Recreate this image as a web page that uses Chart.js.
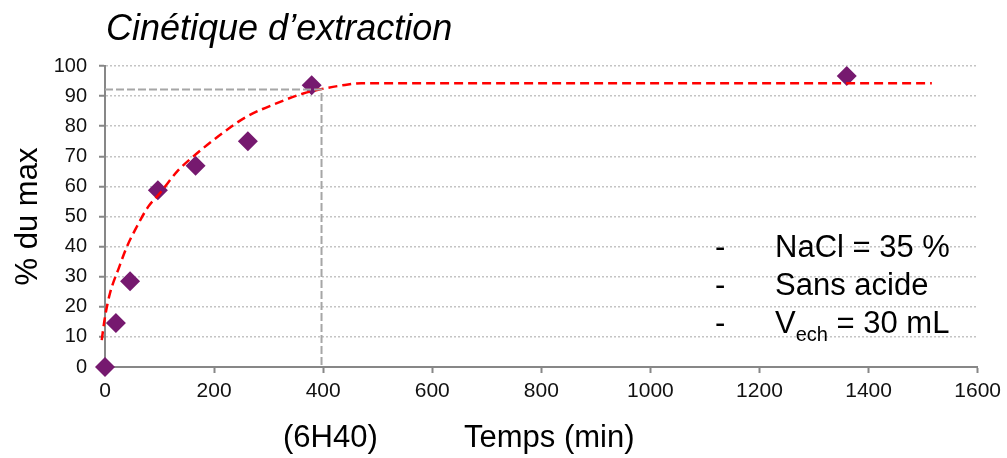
<!DOCTYPE html>
<html>
<head>
<meta charset="utf-8">
<script src="https://cdn.jsdelivr.net/npm/chart.js@4/dist/chart.umd.min.js"></script>
<style>
  html, body { margin: 0; padding: 0; background: #ffffff; }
  #wrap { width: 1007px; height: 458px; position: relative; }
</style>
</head>
<body>
<div id="wrap"><canvas id="c" width="1007" height="458"></canvas></div>
<script>
// ---- data ----
const measureTimes  = [0, 20, 46, 97, 166, 262, 379, 1360];          // min
const measureValues = [0, 14.6, 28.5, 58.7, 66.9, 75.0, 93.6, 96.7];  // % du max

const fitTimes  = [-12, -6, 0, 9, 26, 40, 58, 79, 100, 134, 161, 222, 259, 313, 362, 393, 440, 470, 600, 1000, 1516];
const fitValues = [0, 8.9, 16.6, 24.4, 33.2, 39.9, 46.5, 53.2, 57.6, 65.3, 69.8, 78.6, 83.1, 87.5, 90.8, 92.2, 93.7, 94.3, 94.3, 94.3, 94.3];

const refTimes  = [0, 397, 397];
const refValues = [92.2, 92.2, 0];

const xTicks = [0, 200, 400, 600, 800, 1000, 1200, 1400, 1600];
const yTicks = [0, 10, 20, 30, 40, 50, 60, 70, 80, 90, 100];

const chartTitle = 'Cinétique d’extraction';
const xTitle = 'Temps (min)';
const xNote = '(6H40)';
const yTitle = '% du max';
const conditions = [
  { main: 'NaCl = 35 %' },
  { main: 'Sans acide' },
  { main: 'V', sub: 'ech', rest: ' = 30 mL' }
];

const toXY = (xs, ys) => xs.map((x, i) => ({ x: x, y: ys[i] }));

const FONT = '"Liberation Sans", Arial, sans-serif';
const AXIS_GRAY = '#878787';

const textPlugin = {
  id: 'texts',
  afterDraw(chart) {
    const ctx = chart.ctx;
    ctx.save();
    ctx.fillStyle = '#000';
    ctx.textBaseline = 'alphabetic';
    ctx.textAlign = 'left';
    // title
    ctx.font = 'italic 36px ' + FONT;
    ctx.fillText(chartTitle, 106, 40);
    // x titles
    ctx.font = '31px ' + FONT;
    ctx.fillText(xNote, 283, 447);
    ctx.fillText(xTitle, 464, 447);
    // conditions box
    const baselines = [257, 295, 333];
    conditions.forEach((c, i) => {
      const yb = baselines[i];
      ctx.font = '31px ' + FONT;
      ctx.fillText('-', 715, yb);
      let x = 775;
      ctx.fillText(c.main, x, yb);
      x += ctx.measureText(c.main).width;
      if (c.sub) {
        ctx.font = '20px ' + FONT;
        ctx.fillText(c.sub, x, yb + 8);
        x += ctx.measureText(c.sub).width;
        ctx.font = '31px ' + FONT;
        ctx.fillText(c.rest, x, yb);
      }
    });
    ctx.restore();
  }
};

new Chart(document.getElementById('c'), {
  type: 'scatter',
  data: {
    datasets: [
      {
        label: 'reference',
        type: 'line',
        data: toXY(refTimes, refValues),
        borderColor: '#a6a6a6',
        borderWidth: 2,
        borderDash: [8, 3],
        pointRadius: 0,
        fill: false,
        tension: 0,
        clip: false
      },
      {
        label: 'fit',
        type: 'line',
        data: toXY(fitTimes, fitValues),
        borderColor: '#ff0000',
        borderWidth: 2.5,
        borderDash: [9, 5],
        pointRadius: 0,
        fill: false,
        cubicInterpolationMode: 'monotone',
        clip: false
      },
      {
        label: 'mesures',
        data: toXY(measureTimes, measureValues),
        pointStyle: 'rectRot',
        pointRadius: 10,
        pointHoverRadius: 10,
        backgroundColor: '#76196f',
        borderColor: '#76196f',
        borderWidth: 0,
        clip: false
      }
    ]
  },
  plugins: [textPlugin],
  options: {
    responsive: false,
    animation: false,
    events: [],
    layout: { padding: { top: 66, right: 28, bottom: 0, left: 0 } },
    plugins: {
      legend: { display: false },
      title: { display: false },
      tooltip: { enabled: false }
    },
    scales: {
      x: {
        type: 'linear',
        min: 0,
        max: 1600,
        afterBuildTicks(scale) { scale.ticks = xTicks.map(v => ({ value: v })); },
        afterFit(scale) { scale.height = 91; },
        border: { color: AXIS_GRAY, width: 2 },
        grid: {
          drawOnChartArea: false,
          drawTicks: true,
          tickLength: 6,
          tickColor: AXIS_GRAY,
          tickWidth: 2
        },
        ticks: {
          color: '#111',
          font: { family: FONT, size: 21 },
          padding: 6,
          maxRotation: 0,
          callback: (v) => String(v)
        }
      },
      y: {
        type: 'linear',
        min: 0,
        max: 100,
        afterBuildTicks(scale) { scale.ticks = yTicks.map(v => ({ value: v })); },
        afterFit(scale) { scale.width = 105; },
        border: { color: AXIS_GRAY, width: 2, dash: [2, 2] },
        grid: {
          color: '#c4c4c4',
          lineWidth: 1.5,
          drawTicks: true,
          tickLength: 6,
          tickColor: AXIS_GRAY,
          tickWidth: 2,
          tickBorderDash: []
        },
        ticks: {
          color: '#111',
          font: { family: FONT, size: 20 },
          padding: 12,
          callback: (v) => String(v)
        },
        title: {
          display: true,
          text: yTitle,
          color: '#000',
          font: { family: FONT, size: 31 },
          padding: { top: 10, bottom: 0 }
        }
      }
    }
  }
});
</script>
</body>
</html>
